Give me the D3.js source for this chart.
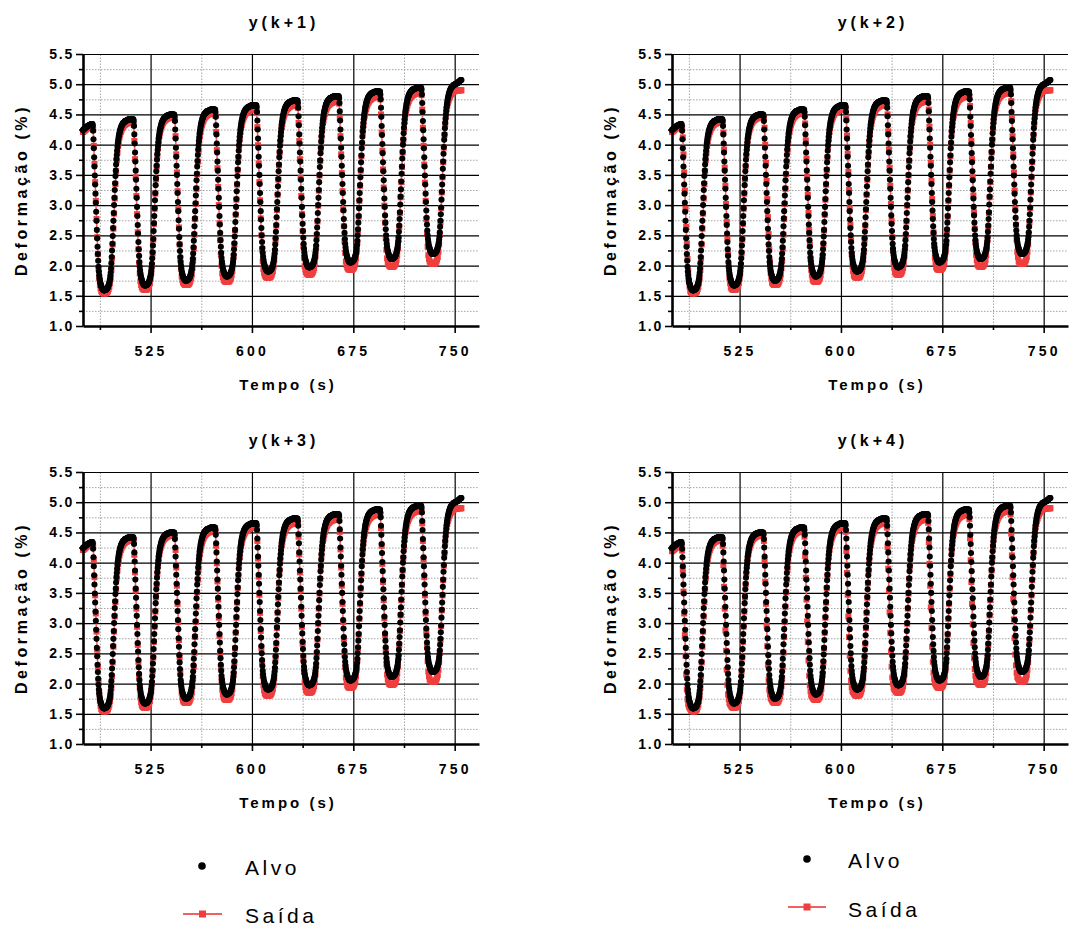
<!DOCTYPE html>
<html>
<head>
<meta charset="utf-8">
<script src="https://cdn.jsdelivr.net/npm/d3@7"></script>
<style>
body { margin: 0; background: #fff; }
text { font-family: "Liberation Sans", Arial, sans-serif; }
</style>
</head>
<body>
<div id="wrapper"></div>
<script>
// time axis: first sample and sampling step of each series (s)
var T0 = 475
var DT_ALVO = 0.25
var DT_SAIDA = 0.5

var titles = ["y(k+1)", "y(k+2)", "y(k+3)", "y(k+4)"]
var yTicks = [1.0, 1.5, 2.0, 2.5, 3.0, 3.5, 4.0, 4.5, 5.0, 5.5]
var yMinorTicks = [1.25, 1.75, 2.25, 2.75, 3.25, 3.75, 4.25, 4.75, 5.25]
var xTicks = [525, 600, 675, 750]
var xMinorTicks = [487.5, 562.5, 637.5, 712.5]
var legendLabels = ["Alvo", "Saída"]

// Alvo (target), one line per cycle
var alvo = [
4.24,4.25,4.25,4.26,4.26,4.27,4.27,4.28,4.28,4.29,4.29,4.30,4.30,4.30,4.31,4.31,4.31,4.32,4.32,4.32,4.33,4.33,4.33,4.33,4.34,4.34,4.34,4.34,4.34,
4.31,4.23,4.09,3.94,3.79,3.64,3.49,3.34,3.19,3.04,2.89,2.74,2.59,2.45,2.31,2.19,2.08,1.98,1.90,1.84,1.79,1.75,1.72,1.70,1.68,1.66,1.64,1.63,1.62,1.61,1.60,1.60,1.59,1.59,1.59,1.59,
1.59,1.60,1.60,1.60,1.61,1.61,1.62,1.63,1.63,1.65,1.66,1.68,1.70,1.72,1.75,1.78,1.83,1.88,1.95,2.04,2.14,2.25,2.36,2.49,2.62,2.74,2.87,3.00,3.12,3.25,3.36,3.48,3.57,3.67,3.76,3.83,3.90,3.96,4.02,4.06,4.10,4.14,4.17,4.19,4.22,4.24,4.26,4.28,4.29,4.31,4.32,4.33,4.34,4.35,4.36,4.36,4.37,4.37,4.38,4.39,4.39,4.39,4.39,4.40,4.40,4.40,4.41,4.41,4.41,4.41,4.42,
4.42,4.42,4.42,4.42,4.42,4.42,4.42,4.42,4.42,4.42,4.42,4.42,4.42,4.42,
4.39,4.31,4.17,4.02,3.87,3.72,3.57,3.42,3.27,3.12,2.97,2.82,2.67,2.53,2.39,2.27,2.16,2.06,1.98,1.92,1.87,1.83,1.80,1.78,1.76,1.74,1.72,1.71,1.70,1.69,1.68,1.68,1.67,1.67,1.67,1.67,
1.67,1.68,1.68,1.68,1.69,1.69,1.70,1.71,1.71,1.73,1.74,1.76,1.78,1.80,1.83,1.86,1.91,1.96,2.03,2.12,2.22,2.33,2.44,2.57,2.70,2.82,2.95,3.08,3.20,3.33,3.44,3.56,3.65,3.75,3.84,3.91,3.98,4.04,4.10,4.14,4.18,4.22,4.25,4.27,4.30,4.32,4.34,4.36,4.37,4.39,4.40,4.41,4.42,4.43,4.44,4.44,4.45,4.45,4.46,4.47,4.47,4.47,4.47,4.48,4.48,4.48,4.49,4.49,4.49,4.49,4.50,
4.50,4.50,4.50,4.50,4.50,4.50,4.50,4.50,4.50,4.50,4.50,4.50,4.50,4.50,
4.47,4.39,4.25,4.10,3.95,3.80,3.65,3.50,3.35,3.20,3.05,2.90,2.75,2.61,2.47,2.35,2.24,2.14,2.06,2.00,1.95,1.91,1.88,1.86,1.84,1.82,1.80,1.79,1.78,1.77,1.76,1.76,1.75,1.75,1.75,1.75,
1.75,1.76,1.76,1.76,1.77,1.77,1.78,1.79,1.79,1.81,1.82,1.84,1.86,1.88,1.91,1.94,1.99,2.04,2.11,2.20,2.30,2.41,2.52,2.65,2.78,2.90,3.03,3.16,3.28,3.41,3.52,3.64,3.73,3.83,3.92,3.99,4.06,4.12,4.18,4.22,4.26,4.30,4.33,4.35,4.38,4.40,4.42,4.44,4.45,4.47,4.48,4.49,4.50,4.51,4.52,4.52,4.53,4.53,4.54,4.55,4.55,4.55,4.55,4.56,4.56,4.56,4.57,4.57,4.57,4.57,4.58,
4.58,4.58,4.58,4.58,4.58,4.58,4.58,4.58,4.58,4.58,4.58,4.58,4.58,4.58,
4.54,4.46,4.32,4.17,4.02,3.87,3.72,3.57,3.42,3.27,3.12,2.97,2.82,2.68,2.54,2.42,2.31,2.21,2.13,2.07,2.02,1.98,1.95,1.93,1.91,1.89,1.87,1.86,1.85,1.84,1.83,1.83,1.82,1.82,1.82,1.82,
1.82,1.83,1.83,1.83,1.84,1.84,1.85,1.86,1.86,1.88,1.89,1.91,1.93,1.95,1.98,2.01,2.06,2.11,2.18,2.27,2.37,2.48,2.59,2.72,2.85,2.97,3.10,3.23,3.35,3.48,3.59,3.71,3.80,3.90,3.99,4.06,4.13,4.19,4.25,4.29,4.33,4.37,4.40,4.42,4.45,4.47,4.49,4.51,4.52,4.54,4.55,4.56,4.57,4.58,4.59,4.59,4.60,4.60,4.61,4.62,4.62,4.62,4.62,4.63,4.63,4.63,4.64,4.64,4.64,4.64,4.65,
4.65,4.65,4.65,4.65,4.65,4.65,4.65,4.65,4.65,4.65,4.65,4.65,4.65,4.65,4.65,
4.62,4.54,4.40,4.25,4.10,3.95,3.80,3.65,3.50,3.35,3.20,3.05,2.90,2.76,2.62,2.50,2.39,2.29,2.21,2.15,2.10,2.06,2.03,2.01,1.99,1.97,1.95,1.94,1.93,1.92,1.91,1.91,1.90,1.90,1.90,1.90,
1.90,1.91,1.91,1.91,1.92,1.92,1.93,1.94,1.94,1.96,1.97,1.99,2.01,2.03,2.06,2.09,2.14,2.19,2.26,2.35,2.45,2.56,2.67,2.80,2.93,3.05,3.18,3.31,3.43,3.56,3.67,3.79,3.88,3.98,4.07,4.14,4.21,4.27,4.33,4.37,4.41,4.45,4.48,4.50,4.53,4.55,4.57,4.59,4.60,4.62,4.63,4.64,4.65,4.66,4.67,4.67,4.68,4.68,4.69,4.70,4.70,4.70,4.70,4.71,4.71,4.71,4.72,4.72,4.72,4.72,4.73,
4.73,4.73,4.73,4.73,4.73,4.73,4.73,4.73,4.73,4.73,4.73,4.73,4.73,4.73,4.73,
4.69,4.61,4.47,4.32,4.17,4.02,3.87,3.72,3.57,3.42,3.27,3.12,2.97,2.83,2.69,2.57,2.46,2.36,2.28,2.22,2.17,2.13,2.10,2.08,2.06,2.04,2.02,2.01,2.00,1.99,1.98,1.98,1.97,1.97,1.97,1.97,
1.97,1.98,1.98,1.98,1.99,1.99,2.00,2.01,2.01,2.03,2.04,2.06,2.08,2.10,2.13,2.16,2.21,2.26,2.33,2.42,2.52,2.63,2.74,2.87,3.00,3.12,3.25,3.38,3.50,3.63,3.74,3.86,3.95,4.05,4.14,4.21,4.28,4.34,4.40,4.44,4.48,4.52,4.55,4.57,4.60,4.62,4.64,4.66,4.67,4.69,4.70,4.71,4.72,4.73,4.74,4.74,4.75,4.75,4.76,4.77,4.77,4.77,4.77,4.78,4.78,4.78,4.79,4.79,4.79,4.79,4.80,
4.80,4.80,4.80,4.80,4.80,4.80,4.80,4.80,4.80,4.80,4.80,4.80,4.80,4.80,4.80,
4.77,4.69,4.55,4.40,4.25,4.10,3.95,3.80,3.65,3.50,3.35,3.20,3.05,2.91,2.77,2.65,2.54,2.44,2.36,2.30,2.25,2.21,2.18,2.16,2.14,2.12,2.10,2.09,2.08,2.07,2.06,2.06,2.05,2.05,2.05,2.05,
2.05,2.06,2.06,2.06,2.07,2.07,2.08,2.09,2.09,2.11,2.12,2.14,2.16,2.18,2.21,2.24,2.29,2.34,2.41,2.50,2.60,2.71,2.82,2.95,3.08,3.20,3.33,3.46,3.58,3.71,3.82,3.94,4.03,4.13,4.22,4.29,4.36,4.42,4.48,4.52,4.56,4.60,4.63,4.65,4.68,4.70,4.72,4.74,4.75,4.77,4.78,4.79,4.80,4.81,4.82,4.82,4.83,4.83,4.84,4.85,4.85,4.85,4.85,4.86,4.86,4.86,4.87,4.87,4.87,4.87,4.88,
4.88,4.88,4.88,4.88,4.88,4.88,4.88,4.88,4.88,4.88,4.88,4.88,4.88,4.88,4.88,
4.83,4.75,4.61,4.46,4.31,4.16,4.01,3.86,3.71,3.56,3.41,3.26,3.11,2.97,2.83,2.71,2.60,2.50,2.42,2.36,2.31,2.27,2.24,2.22,2.20,2.18,2.16,2.15,2.14,2.13,2.12,2.12,2.11,2.11,2.11,2.11,
2.11,2.12,2.12,2.12,2.13,2.13,2.14,2.15,2.15,2.17,2.18,2.20,2.22,2.24,2.27,2.30,2.35,2.40,2.47,2.56,2.66,2.77,2.88,3.01,3.14,3.26,3.39,3.52,3.64,3.77,3.88,4.00,4.09,4.19,4.28,4.35,4.42,4.48,4.54,4.58,4.62,4.66,4.69,4.71,4.74,4.76,4.78,4.80,4.81,4.83,4.84,4.85,4.86,4.87,4.88,4.88,4.89,4.89,4.90,4.91,4.91,4.91,4.91,4.92,4.92,4.92,4.93,4.93,4.93,4.93,4.94,
4.94,4.94,4.94,4.94,4.94,4.94,4.94,4.94,4.94,4.94,4.94,4.94,4.94,4.94,4.94,
4.91,4.83,4.69,4.54,4.39,4.24,4.09,3.94,3.79,3.64,3.49,3.34,3.19,3.05,2.91,2.79,2.68,2.58,2.50,2.44,2.39,2.35,2.32,2.30,2.28,2.26,2.24,2.23,2.22,2.21,2.20,2.20,2.19,2.19,2.19,2.19,
2.19,2.20,2.20,2.20,2.21,2.21,2.22,2.23,2.23,2.25,2.26,2.28,2.30,2.32,2.35,2.38,2.43,2.48,2.55,2.64,2.74,2.85,2.96,3.09,3.22,3.34,3.47,3.60,3.72,3.85,3.96,4.08,4.17,4.27,4.36,4.43,4.50,4.56,4.62,4.66,4.70,4.74,4.77,4.79,4.82,4.84,4.86,4.88,4.89,4.91,4.92,4.93,4.94,4.95,4.96,4.96,4.97,4.97,4.98,4.99,4.99,4.99,4.99,5.00,5.00,5.00,5.01,5.01,5.01,5.01,5.02,
5.02,5.03,5.03,5.04,5.04,5.05,5.05,5.06,5.06,5.07,5.07,5.07
]

// Saída (model output) for each horizon, one line per cycle
var saida1 = [
4.21,4.22,4.23,4.24,4.25,4.26,4.27,4.28,4.28,4.29,4.30,4.30,4.31,4.31,4.31,
4.25,3.98,3.68,3.38,3.07,2.77,2.47,2.19,1.96,1.79,1.68,1.62,1.58,1.56,1.55,1.54,1.54,1.54,1.54,1.54,1.55,1.56,1.58,1.61,1.65,1.71,1.80,1.93,2.12,2.35,2.61,2.86,3.11,3.35,3.56,3.74,3.87,3.98,4.06,4.12,4.17,4.21,4.24,4.27,4.29,4.31,4.32,4.33,4.34,4.35,4.35,4.36,4.36,4.37,4.37,4.37,4.38,4.38,4.38,4.38,
4.33,4.06,3.76,3.46,3.15,2.85,2.55,2.27,2.04,1.87,1.74,1.68,1.64,1.62,1.61,1.60,1.60,1.60,1.60,1.60,1.61,1.62,1.64,1.67,1.71,1.78,1.88,2.01,2.20,2.43,2.69,2.94,3.19,3.43,3.64,3.82,3.95,4.06,4.14,4.20,4.25,4.29,4.32,4.35,4.37,4.39,4.40,4.41,4.42,4.43,4.43,4.44,4.44,4.45,4.45,4.45,4.46,4.46,4.46,4.46,4.46,
4.41,4.14,3.84,3.54,3.23,2.93,2.63,2.35,2.12,1.95,1.82,1.76,1.72,1.70,1.69,1.68,1.68,1.68,1.68,1.68,1.69,1.70,1.72,1.75,1.79,1.85,1.96,2.09,2.28,2.51,2.77,3.02,3.27,3.51,3.72,3.90,4.03,4.14,4.21,4.27,4.32,4.36,4.39,4.42,4.44,4.46,4.47,4.48,4.49,4.50,4.50,4.51,4.51,4.52,4.52,4.52,4.53,4.53,4.53,4.53,
4.48,4.21,3.91,3.61,3.30,3.00,2.70,2.42,2.19,2.00,1.87,1.81,1.77,1.75,1.74,1.73,1.73,1.73,1.73,1.73,1.74,1.75,1.77,1.80,1.84,1.91,2.02,2.16,2.35,2.58,2.84,3.09,3.34,3.58,3.79,3.97,4.10,4.21,4.27,4.33,4.38,4.42,4.45,4.48,4.50,4.52,4.53,4.54,4.55,4.56,4.56,4.57,4.57,4.58,4.58,4.58,4.59,4.59,4.59,4.59,4.59,
4.54,4.29,3.99,3.69,3.38,3.08,2.78,2.50,2.27,2.07,1.94,1.88,1.84,1.82,1.81,1.80,1.80,1.80,1.80,1.80,1.81,1.82,1.84,1.87,1.91,1.98,2.09,2.24,2.43,2.66,2.92,3.17,3.42,3.66,3.87,4.05,4.18,4.29,4.34,4.40,4.45,4.49,4.52,4.55,4.57,4.59,4.60,4.61,4.62,4.63,4.63,4.64,4.64,4.65,4.65,4.65,4.66,4.66,4.66,4.66,4.66,
4.61,4.36,4.06,3.76,3.45,3.15,2.85,2.57,2.32,2.13,1.99,1.93,1.89,1.87,1.86,1.85,1.85,1.85,1.85,1.85,1.86,1.87,1.89,1.92,1.96,2.04,2.15,2.30,2.50,2.73,2.99,3.24,3.49,3.73,3.94,4.12,4.25,4.36,4.40,4.46,4.51,4.55,4.58,4.61,4.63,4.65,4.66,4.67,4.68,4.69,4.69,4.70,4.70,4.71,4.71,4.71,4.72,4.72,4.72,4.72,4.72,
4.68,4.44,4.14,3.84,3.53,3.23,2.93,2.65,2.40,2.21,2.07,2.01,1.97,1.95,1.94,1.93,1.93,1.93,1.93,1.93,1.94,1.95,1.97,2.00,2.04,2.12,2.23,2.38,2.58,2.81,3.07,3.32,3.57,3.81,4.02,4.20,4.33,4.44,4.48,4.54,4.59,4.63,4.66,4.69,4.71,4.73,4.74,4.75,4.76,4.77,4.77,4.78,4.78,4.79,4.79,4.79,4.80,4.80,4.80,4.80,4.80,
4.75,4.50,4.20,3.90,3.59,3.29,2.99,2.71,2.46,2.26,2.12,2.06,2.02,2.00,1.99,1.98,1.98,1.98,1.98,1.98,1.99,2.00,2.02,2.05,2.09,2.17,2.28,2.43,2.64,2.87,3.13,3.38,3.63,3.87,4.08,4.26,4.39,4.50,4.54,4.60,4.65,4.69,4.72,4.75,4.77,4.79,4.80,4.81,4.82,4.83,4.83,4.84,4.84,4.85,4.85,4.85,4.86,4.86,4.86,4.86,4.86,
4.82,4.58,4.28,3.98,3.67,3.37,3.07,2.77,2.52,2.31,2.17,2.11,2.07,2.05,2.04,2.03,2.03,2.03,2.03,2.03,2.04,2.05,2.07,2.10,2.14,2.23,2.35,2.51,2.72,2.95,3.21,3.46,3.71,3.95,4.16,4.34,4.47,4.58,4.64,4.69,4.73,4.77,4.80,4.82,4.84,4.86,4.87,4.88,4.88,4.89,4.89,4.89,4.90,4.90,4.90,4.90,4.90,4.90,4.90,4.90
]

var saida2 = [
4.21,4.22,4.23,4.24,4.25,4.26,4.27,4.28,4.28,4.29,4.30,4.30,4.31,4.31,4.31,
4.28,4.12,3.84,3.54,3.24,2.94,2.64,2.36,2.11,1.91,1.74,1.65,1.58,1.56,1.55,1.54,1.54,1.54,1.54,1.54,1.55,1.56,1.58,1.61,1.65,1.71,1.80,1.93,2.12,2.35,2.61,2.86,3.11,3.35,3.56,3.74,3.87,3.98,4.06,4.12,4.17,4.21,4.24,4.27,4.29,4.31,4.32,4.33,4.34,4.35,4.35,4.36,4.36,4.37,4.37,4.37,4.38,4.38,4.38,4.38,
4.36,4.20,3.92,3.62,3.32,3.02,2.72,2.44,2.19,1.99,1.80,1.71,1.64,1.62,1.61,1.60,1.60,1.60,1.60,1.60,1.61,1.62,1.64,1.67,1.71,1.78,1.88,2.01,2.20,2.43,2.69,2.94,3.19,3.43,3.64,3.82,3.95,4.06,4.14,4.20,4.25,4.29,4.32,4.35,4.37,4.39,4.40,4.41,4.42,4.43,4.43,4.44,4.44,4.45,4.45,4.45,4.46,4.46,4.46,4.46,4.46,
4.44,4.28,4.00,3.70,3.40,3.10,2.80,2.52,2.27,2.07,1.88,1.79,1.72,1.70,1.69,1.68,1.68,1.68,1.68,1.68,1.69,1.70,1.72,1.75,1.79,1.85,1.96,2.09,2.28,2.51,2.77,3.02,3.27,3.51,3.72,3.90,4.03,4.14,4.21,4.27,4.32,4.36,4.39,4.42,4.44,4.46,4.47,4.48,4.49,4.50,4.50,4.51,4.51,4.52,4.52,4.52,4.53,4.53,4.53,4.53,
4.51,4.35,4.07,3.77,3.47,3.17,2.87,2.59,2.34,2.12,1.93,1.84,1.77,1.75,1.74,1.73,1.73,1.73,1.73,1.73,1.74,1.75,1.77,1.80,1.84,1.91,2.02,2.16,2.35,2.58,2.84,3.09,3.34,3.58,3.79,3.97,4.10,4.21,4.27,4.33,4.38,4.42,4.45,4.48,4.50,4.52,4.53,4.54,4.55,4.56,4.56,4.57,4.57,4.58,4.58,4.58,4.59,4.59,4.59,4.59,4.59,
4.58,4.43,4.15,3.85,3.55,3.25,2.95,2.67,2.42,2.19,2.00,1.91,1.84,1.82,1.81,1.80,1.80,1.80,1.80,1.80,1.81,1.82,1.84,1.87,1.91,1.98,2.09,2.24,2.43,2.66,2.92,3.17,3.42,3.66,3.87,4.05,4.18,4.29,4.34,4.40,4.45,4.49,4.52,4.55,4.57,4.59,4.60,4.61,4.62,4.63,4.63,4.64,4.64,4.65,4.65,4.65,4.66,4.66,4.66,4.66,4.66,
4.65,4.50,4.22,3.92,3.62,3.32,3.02,2.74,2.47,2.25,2.05,1.96,1.89,1.87,1.86,1.85,1.85,1.85,1.85,1.85,1.86,1.87,1.89,1.92,1.96,2.04,2.15,2.30,2.50,2.73,2.99,3.24,3.49,3.73,3.94,4.12,4.25,4.36,4.40,4.46,4.51,4.55,4.58,4.61,4.63,4.65,4.66,4.67,4.68,4.69,4.69,4.70,4.70,4.71,4.71,4.71,4.72,4.72,4.72,4.72,4.72,
4.71,4.58,4.30,4.00,3.70,3.40,3.10,2.82,2.55,2.33,2.13,2.04,1.97,1.95,1.94,1.93,1.93,1.93,1.93,1.93,1.94,1.95,1.97,2.00,2.04,2.12,2.23,2.38,2.58,2.81,3.07,3.32,3.57,3.81,4.02,4.20,4.33,4.44,4.48,4.54,4.59,4.63,4.66,4.69,4.71,4.73,4.74,4.75,4.76,4.77,4.77,4.78,4.78,4.79,4.79,4.79,4.80,4.80,4.80,4.80,4.80,
4.79,4.64,4.36,4.06,3.76,3.46,3.16,2.88,2.61,2.38,2.18,2.09,2.02,2.00,1.99,1.98,1.98,1.98,1.98,1.98,1.99,2.00,2.02,2.05,2.09,2.17,2.28,2.43,2.64,2.87,3.13,3.38,3.63,3.87,4.08,4.26,4.39,4.50,4.54,4.60,4.65,4.69,4.72,4.75,4.77,4.79,4.80,4.81,4.82,4.83,4.83,4.84,4.84,4.85,4.85,4.85,4.86,4.86,4.86,4.86,4.86,
4.85,4.72,4.44,4.14,3.84,3.54,3.24,2.94,2.67,2.43,2.23,2.14,2.07,2.05,2.04,2.03,2.03,2.03,2.03,2.03,2.04,2.05,2.07,2.10,2.14,2.23,2.35,2.51,2.72,2.95,3.21,3.46,3.71,3.95,4.16,4.34,4.47,4.58,4.64,4.69,4.73,4.77,4.80,4.82,4.84,4.86,4.87,4.88,4.88,4.89,4.89,4.89,4.90,4.90,4.90,4.90,4.90,4.90,4.90,4.90
]

var saida3 = [
4.21,4.22,4.23,4.24,4.25,4.26,4.27,4.28,4.28,4.29,4.30,4.30,4.31,4.31,4.31,
4.29,4.05,3.76,3.46,3.16,2.86,2.56,2.28,2.04,1.85,1.71,1.63,1.58,1.56,1.55,1.54,1.54,1.54,1.54,1.54,1.55,1.56,1.58,1.61,1.65,1.71,1.80,1.93,2.12,2.35,2.61,2.86,3.11,3.35,3.56,3.74,3.87,3.98,4.06,4.12,4.17,4.21,4.24,4.27,4.29,4.31,4.32,4.33,4.34,4.35,4.35,4.36,4.36,4.37,4.37,4.37,4.38,4.38,4.38,4.38,
4.37,4.13,3.84,3.54,3.24,2.94,2.64,2.36,2.12,1.93,1.77,1.69,1.64,1.62,1.61,1.60,1.60,1.60,1.60,1.60,1.61,1.62,1.64,1.67,1.71,1.78,1.88,2.01,2.20,2.43,2.69,2.94,3.19,3.43,3.64,3.82,3.95,4.06,4.14,4.20,4.25,4.29,4.32,4.35,4.37,4.39,4.40,4.41,4.42,4.43,4.43,4.44,4.44,4.45,4.45,4.45,4.46,4.46,4.46,4.46,4.46,
4.45,4.21,3.92,3.62,3.32,3.02,2.72,2.44,2.20,2.01,1.85,1.77,1.72,1.70,1.69,1.68,1.68,1.68,1.68,1.68,1.69,1.70,1.72,1.75,1.79,1.85,1.96,2.09,2.28,2.51,2.77,3.02,3.27,3.51,3.72,3.90,4.03,4.14,4.21,4.27,4.32,4.36,4.39,4.42,4.44,4.46,4.47,4.48,4.49,4.50,4.50,4.51,4.51,4.52,4.52,4.52,4.53,4.53,4.53,4.53,
4.52,4.28,3.99,3.69,3.39,3.09,2.79,2.51,2.27,2.06,1.90,1.82,1.77,1.75,1.74,1.73,1.73,1.73,1.73,1.73,1.74,1.75,1.77,1.80,1.84,1.91,2.02,2.16,2.35,2.58,2.84,3.09,3.34,3.58,3.79,3.97,4.10,4.21,4.27,4.33,4.38,4.42,4.45,4.48,4.50,4.52,4.53,4.54,4.55,4.56,4.56,4.57,4.57,4.58,4.58,4.58,4.59,4.59,4.59,4.59,4.59,
4.58,4.36,4.07,3.77,3.47,3.17,2.87,2.59,2.35,2.13,1.97,1.89,1.84,1.82,1.81,1.80,1.80,1.80,1.80,1.80,1.81,1.82,1.84,1.87,1.91,1.98,2.09,2.24,2.43,2.66,2.92,3.17,3.42,3.66,3.87,4.05,4.18,4.29,4.34,4.40,4.45,4.49,4.52,4.55,4.57,4.59,4.60,4.61,4.62,4.63,4.63,4.64,4.64,4.65,4.65,4.65,4.66,4.66,4.66,4.66,4.66,
4.65,4.43,4.14,3.84,3.54,3.24,2.94,2.66,2.40,2.19,2.02,1.94,1.89,1.87,1.86,1.85,1.85,1.85,1.85,1.85,1.86,1.87,1.89,1.92,1.96,2.04,2.15,2.30,2.50,2.73,2.99,3.24,3.49,3.73,3.94,4.12,4.25,4.36,4.40,4.46,4.51,4.55,4.58,4.61,4.63,4.65,4.66,4.67,4.68,4.69,4.69,4.70,4.70,4.71,4.71,4.71,4.72,4.72,4.72,4.72,4.72,
4.71,4.51,4.22,3.92,3.62,3.32,3.02,2.74,2.48,2.27,2.10,2.02,1.97,1.95,1.94,1.93,1.93,1.93,1.93,1.93,1.94,1.95,1.97,2.00,2.04,2.12,2.23,2.38,2.58,2.81,3.07,3.32,3.57,3.81,4.02,4.20,4.33,4.44,4.48,4.54,4.59,4.63,4.66,4.69,4.71,4.73,4.74,4.75,4.76,4.77,4.77,4.78,4.78,4.79,4.79,4.79,4.80,4.80,4.80,4.80,4.80,
4.79,4.57,4.28,3.98,3.68,3.38,3.08,2.80,2.54,2.32,2.15,2.07,2.02,2.00,1.99,1.98,1.98,1.98,1.98,1.98,1.99,2.00,2.02,2.05,2.09,2.17,2.28,2.43,2.64,2.87,3.13,3.38,3.63,3.87,4.08,4.26,4.39,4.50,4.54,4.60,4.65,4.69,4.72,4.75,4.77,4.79,4.80,4.81,4.82,4.83,4.83,4.84,4.84,4.85,4.85,4.85,4.86,4.86,4.86,4.86,4.86,
4.85,4.65,4.36,4.06,3.76,3.46,3.16,2.86,2.60,2.37,2.20,2.12,2.07,2.05,2.04,2.03,2.03,2.03,2.03,2.03,2.04,2.05,2.07,2.10,2.14,2.23,2.35,2.51,2.72,2.95,3.21,3.46,3.71,3.95,4.16,4.34,4.47,4.58,4.64,4.69,4.73,4.77,4.80,4.82,4.84,4.86,4.87,4.88,4.88,4.89,4.89,4.89,4.90,4.90,4.90,4.90,4.90,4.90,4.90,4.90
]

var saida4 = [
4.19,4.20,4.21,4.22,4.23,4.24,4.25,4.26,4.27,4.27,4.28,4.29,4.29,4.30,4.30,
4.20,3.88,3.52,3.16,2.80,2.46,2.15,1.90,1.74,1.66,1.62,1.60,1.58,1.56,1.55,1.54,1.54,1.54,1.54,1.54,1.55,1.56,1.58,1.61,1.65,1.71,1.80,1.93,2.12,2.35,2.61,2.86,3.11,3.35,3.56,3.74,3.87,3.98,4.06,4.12,4.17,4.21,4.24,4.27,4.29,4.31,4.32,4.33,4.34,4.35,4.35,4.36,4.36,4.37,4.37,4.37,4.38,4.38,4.38,4.38,
4.28,3.96,3.60,3.24,2.88,2.54,2.23,1.98,1.82,1.74,1.68,1.66,1.64,1.62,1.61,1.60,1.60,1.60,1.60,1.60,1.61,1.62,1.64,1.67,1.71,1.78,1.88,2.01,2.20,2.43,2.69,2.94,3.19,3.43,3.64,3.82,3.95,4.06,4.14,4.20,4.25,4.29,4.32,4.35,4.37,4.39,4.40,4.41,4.42,4.43,4.43,4.44,4.44,4.45,4.45,4.45,4.46,4.46,4.46,4.46,4.46,
4.36,4.04,3.68,3.32,2.96,2.62,2.31,2.06,1.90,1.82,1.76,1.74,1.72,1.70,1.69,1.68,1.68,1.68,1.68,1.68,1.69,1.70,1.72,1.75,1.79,1.85,1.96,2.09,2.28,2.51,2.77,3.02,3.27,3.51,3.72,3.90,4.03,4.14,4.21,4.27,4.32,4.36,4.39,4.42,4.44,4.46,4.47,4.48,4.49,4.50,4.50,4.51,4.51,4.52,4.52,4.52,4.53,4.53,4.53,4.53,
4.43,4.11,3.75,3.39,3.03,2.69,2.38,2.13,1.97,1.87,1.81,1.79,1.77,1.75,1.74,1.73,1.73,1.73,1.73,1.73,1.74,1.75,1.77,1.80,1.84,1.91,2.02,2.16,2.35,2.58,2.84,3.09,3.34,3.58,3.79,3.97,4.10,4.21,4.27,4.33,4.38,4.42,4.45,4.48,4.50,4.52,4.53,4.54,4.55,4.56,4.56,4.57,4.57,4.58,4.58,4.58,4.59,4.59,4.59,4.59,4.59,
4.51,4.19,3.83,3.47,3.11,2.77,2.46,2.21,2.05,1.94,1.88,1.86,1.84,1.82,1.81,1.80,1.80,1.80,1.80,1.80,1.81,1.82,1.84,1.87,1.91,1.98,2.09,2.24,2.43,2.66,2.92,3.17,3.42,3.66,3.87,4.05,4.18,4.29,4.34,4.40,4.45,4.49,4.52,4.55,4.57,4.59,4.60,4.61,4.62,4.63,4.63,4.64,4.64,4.65,4.65,4.65,4.66,4.66,4.66,4.66,4.66,
4.58,4.26,3.90,3.54,3.18,2.84,2.53,2.28,2.10,2.00,1.93,1.91,1.89,1.87,1.86,1.85,1.85,1.85,1.85,1.85,1.86,1.87,1.89,1.92,1.96,2.04,2.15,2.30,2.50,2.73,2.99,3.24,3.49,3.73,3.94,4.12,4.25,4.36,4.40,4.46,4.51,4.55,4.58,4.61,4.63,4.65,4.66,4.67,4.68,4.69,4.69,4.70,4.70,4.71,4.71,4.71,4.72,4.72,4.72,4.72,4.72,
4.66,4.34,3.98,3.62,3.26,2.92,2.61,2.36,2.18,2.08,2.01,1.99,1.97,1.95,1.94,1.93,1.93,1.93,1.93,1.93,1.94,1.95,1.97,2.00,2.04,2.12,2.23,2.38,2.58,2.81,3.07,3.32,3.57,3.81,4.02,4.20,4.33,4.44,4.48,4.54,4.59,4.63,4.66,4.69,4.71,4.73,4.74,4.75,4.76,4.77,4.77,4.78,4.78,4.79,4.79,4.79,4.80,4.80,4.80,4.80,4.80,
4.72,4.40,4.04,3.68,3.32,2.98,2.67,2.42,2.24,2.13,2.06,2.04,2.02,2.00,1.99,1.98,1.98,1.98,1.98,1.98,1.99,2.00,2.02,2.05,2.09,2.17,2.28,2.43,2.64,2.87,3.13,3.38,3.63,3.87,4.08,4.26,4.39,4.50,4.54,4.60,4.65,4.69,4.72,4.75,4.77,4.79,4.80,4.81,4.82,4.83,4.83,4.84,4.84,4.85,4.85,4.85,4.86,4.86,4.86,4.86,4.86,
4.80,4.48,4.12,3.76,3.40,3.06,2.75,2.48,2.30,2.18,2.11,2.09,2.07,2.05,2.04,2.03,2.03,2.03,2.03,2.03,2.04,2.05,2.07,2.10,2.14,2.23,2.35,2.51,2.72,2.95,3.21,3.46,3.71,3.95,4.16,4.34,4.47,4.58,4.64,4.69,4.73,4.77,4.80,4.82,4.84,4.86,4.87,4.88,4.88,4.89,4.89,4.89,4.90,4.90,4.90,4.90,4.90,4.90,4.90,4.90
]

var saidas = [saida1, saida2, saida3, saida4]

var PLOT_W = 396
var PLOT_H = 272
var spots = [[0, 0], [589, 0], [0, 418], [589, 418]]
var FONT = '"Liberation Sans", Arial, sans-serif'
var RED = "#f03e3e"

var x = d3.scaleLinear().domain([475, 768]).range([0, PLOT_W])
var y = d3.scaleLinear().domain([1, 5.5]).range([PLOT_H, 0])

var alvoPts = alvo.map((v, i) => ({t: T0 + i * DT_ALVO, v: v}))

const svg = d3.select("#wrapper")
    .append("svg")
    .attr("width", 1073)
    .attr("height", 927)

function styleText(sel, size, spacing, weight) {
    sel.attr("font-family", FONT)
        .attr("font-size", size)
        .attr("font-weight", weight)
        .attr("letter-spacing", spacing + "px")
        .attr("fill", "#000")
}

titles.forEach(function(title, k) {
    var ox = spots[k][0], oy = spots[k][1]
    var saidaPts = saidas[k].map((v, i) => ({t: T0 + i * DT_SAIDA, v: v}))

    const g = svg.append("g")
        .attr("transform", `translate(${ox + 83},${oy + 54})`)

    // dotted minor grid
    g.append("g")
        .call(d3.axisLeft(y).tickValues(yMinorTicks).tickSize(-PLOT_W).tickFormat(""))
        .call(s => s.select(".domain").remove())
        .selectAll("line")
        .attr("stroke", "#a6a6a6")
        .attr("stroke-dasharray", "1.5,1.5")
    g.append("g")
        .attr("transform", `translate(0,${PLOT_H})`)
        .call(d3.axisBottom(x).tickValues(xMinorTicks).tickSize(-PLOT_H).tickFormat(""))
        .call(s => s.select(".domain").remove())
        .selectAll("line")
        .attr("stroke", "#a6a6a6")
        .attr("stroke-dasharray", "1.5,1.5")

    // solid major grid
    g.append("g")
        .call(d3.axisLeft(y).tickValues(yTicks.slice(1)).tickSize(-PLOT_W).tickFormat(""))
        .call(s => s.select(".domain").remove())
        .selectAll("line")
        .attr("stroke", "#000")
        .attr("stroke-width", 1.2)
    g.append("g")
        .attr("transform", `translate(0,${PLOT_H})`)
        .call(d3.axisBottom(x).tickValues(xTicks).tickSize(-PLOT_H).tickFormat(""))
        .call(s => s.select(".domain").remove())
        .selectAll("line")
        .attr("stroke", "#000")
        .attr("stroke-width", 1.2)

    // Saída: line + squares
    g.append("path")
        .datum(saidaPts)
        .attr("fill", "none")
        .attr("stroke", "#f26161")
        .attr("stroke-width", 1.6)
        .attr("d", d3.line().x(d => x(d.t)).y(d => y(d.v)))

    g.append("g")
        .selectAll("rect")
        .data(saidaPts)
        .enter()
        .append("rect")
        .attr("x", d => x(d.t) - 3)
        .attr("y", d => y(d.v) - 3)
        .attr("width", 6)
        .attr("height", 6)
        .attr("fill", RED)

    // Alvo: dots
    g.append("g")
        .selectAll("circle")
        .data(alvoPts)
        .enter()
        .append("circle")
        .attr("cx", d => x(d.t))
        .attr("cy", d => y(d.v))
        .attr("r", 3.05)
        .attr("fill", "#000")

    // axes
    const yAxis = g.append("g")
        .call(d3.axisLeft(y).tickValues(yTicks).tickSize(7).tickSizeOuter(0).tickFormat(d3.format(".1f")))
    yAxis.select(".domain").attr("stroke-width", 2.6)
    yAxis.selectAll(".tick line").attr("stroke-width", 1.6)
    yAxis.selectAll("text").call(styleText, 14, 1.8, "bold").attr("x", -9)
    g.append("g")
        .call(d3.axisLeft(y).tickValues(yMinorTicks).tickSize(4).tickFormat(""))
        .call(s => s.select(".domain").remove())
        .selectAll("line").attr("stroke-width", 1.6)

    const xAxis = g.append("g")
        .attr("transform", `translate(0,${PLOT_H})`)
        .call(d3.axisBottom(x).tickValues(xTicks).tickSize(7).tickSizeOuter(0).tickFormat(d3.format("d")))
    xAxis.select(".domain").attr("stroke-width", 2.6)
    xAxis.selectAll(".tick line").attr("stroke-width", 1.6)
    xAxis.selectAll("text").call(styleText, 14, 3.2, "bold").attr("y", 30).attr("dy", null)
    g.append("g")
        .attr("transform", `translate(0,${PLOT_H})`)
        .call(d3.axisBottom(x).tickValues(xMinorTicks).tickSize(4).tickFormat(""))
        .call(s => s.select(".domain").remove())
        .selectAll("line").attr("stroke-width", 1.6)

    // title and axis labels
    svg.append("text")
        .attr("x", ox + 284)
        .attr("y", oy + 28)
        .attr("text-anchor", "middle")
        .text(title)
        .call(styleText, 16, 4, "bold")

    svg.append("text")
        .attr("x", ox + 288)
        .attr("y", oy + 390)
        .attr("text-anchor", "middle")
        .text("Tempo (s)")
        .call(styleText, 15, 3, "bold")

    svg.append("text")
        .attr("transform", `translate(${ox + 27},${oy + 190}) rotate(-90)`)
        .attr("text-anchor", "middle")
        .text("Deformação (%)")
        .call(styleText, 16, 3.6, "bold")
})

// the two legends
var legends = [
    {dot: [202, 866], line: [183, 222, 914], tx: 245, ty1: 875, ty2: 923},
    {dot: [807, 859], line: [788, 826, 907], tx: 848, ty1: 868, ty2: 917}
]

legends.forEach(function(lg) {
    svg.append("circle")
        .attr("cx", lg.dot[0]).attr("cy", lg.dot[1]).attr("r", 3.8)
        .attr("fill", "#000")
    svg.append("line")
        .attr("x1", lg.line[0]).attr("x2", lg.line[1])
        .attr("y1", lg.line[2]).attr("y2", lg.line[2])
        .attr("stroke", "#f26161").attr("stroke-width", 2)
    svg.append("rect")
        .attr("x", (lg.line[0] + lg.line[1]) / 2 - 3.5)
        .attr("y", lg.line[2] - 3.5)
        .attr("width", 7).attr("height", 7)
        .attr("fill", RED)
    svg.append("text")
        .attr("x", lg.tx).attr("y", lg.ty1)
        .text(legendLabels[0])
        .call(styleText, 21, 3.5, "normal")
    svg.append("text")
        .attr("x", lg.tx).attr("y", lg.ty2)
        .text(legendLabels[1])
        .call(styleText, 21, 3.5, "normal")
})
</script>
</body>
</html>
